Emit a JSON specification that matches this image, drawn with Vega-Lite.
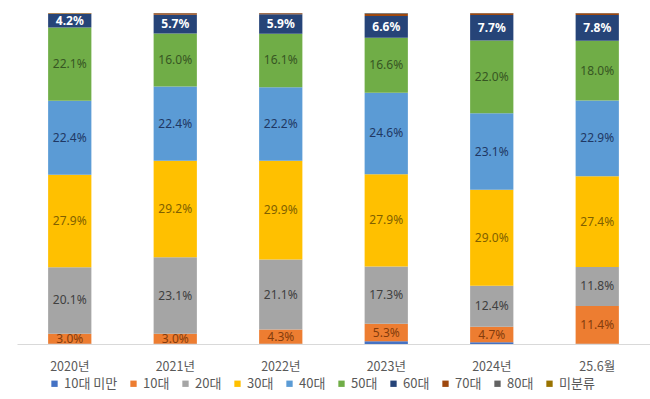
{
  "$schema": "https://vega.github.io/schema/vega-lite/v6.json",
  "width": 633,
  "height": 331,
  "padding": {"left": 17, "top": 12, "right": 0, "bottom": 0},
  "background": "white",
  "config": {"view": {"stroke": null}, "font": "Noto Sans CJK KR"},
  "data": {"values": [
    {"year": "2020년", "age": "10대 미만", "o": 0, "v": 0.1},
    {"year": "2020년", "age": "10대", "o": 1, "v": 3.0},
    {"year": "2020년", "age": "20대", "o": 2, "v": 20.1},
    {"year": "2020년", "age": "30대", "o": 3, "v": 27.9},
    {"year": "2020년", "age": "40대", "o": 4, "v": 22.4},
    {"year": "2020년", "age": "50대", "o": 5, "v": 22.1},
    {"year": "2020년", "age": "60대", "o": 6, "v": 4.2},
    {"year": "2020년", "age": "70대", "o": 7, "v": 0.1},
    {"year": "2020년", "age": "80대", "o": 8, "v": 0.05},
    {"year": "2020년", "age": "미분류", "o": 9, "v": 0.05},
    {"year": "2021년", "age": "10대 미만", "o": 0, "v": 0.1},
    {"year": "2021년", "age": "10대", "o": 1, "v": 3.0},
    {"year": "2021년", "age": "20대", "o": 2, "v": 23.1},
    {"year": "2021년", "age": "30대", "o": 3, "v": 29.2},
    {"year": "2021년", "age": "40대", "o": 4, "v": 22.4},
    {"year": "2021년", "age": "50대", "o": 5, "v": 16.0},
    {"year": "2021년", "age": "60대", "o": 6, "v": 5.7},
    {"year": "2021년", "age": "70대", "o": 7, "v": 0.4},
    {"year": "2021년", "age": "80대", "o": 8, "v": 0.1},
    {"year": "2021년", "age": "미분류", "o": 9, "v": 0.0},
    {"year": "2022년", "age": "10대 미만", "o": 0, "v": 0.1},
    {"year": "2022년", "age": "10대", "o": 1, "v": 4.3},
    {"year": "2022년", "age": "20대", "o": 2, "v": 21.1},
    {"year": "2022년", "age": "30대", "o": 3, "v": 29.9},
    {"year": "2022년", "age": "40대", "o": 4, "v": 22.2},
    {"year": "2022년", "age": "50대", "o": 5, "v": 16.1},
    {"year": "2022년", "age": "60대", "o": 6, "v": 5.9},
    {"year": "2022년", "age": "70대", "o": 7, "v": 0.3},
    {"year": "2022년", "age": "80대", "o": 8, "v": 0.1},
    {"year": "2022년", "age": "미분류", "o": 9, "v": 0.0},
    {"year": "2023년", "age": "10대 미만", "o": 0, "v": 0.8},
    {"year": "2023년", "age": "10대", "o": 1, "v": 5.3},
    {"year": "2023년", "age": "20대", "o": 2, "v": 17.3},
    {"year": "2023년", "age": "30대", "o": 3, "v": 27.9},
    {"year": "2023년", "age": "40대", "o": 4, "v": 24.6},
    {"year": "2023년", "age": "50대", "o": 5, "v": 16.6},
    {"year": "2023년", "age": "60대", "o": 6, "v": 6.6},
    {"year": "2023년", "age": "70대", "o": 7, "v": 0.7},
    {"year": "2023년", "age": "80대", "o": 8, "v": 0.2},
    {"year": "2023년", "age": "미분류", "o": 9, "v": 0.0},
    {"year": "2024년", "age": "10대 미만", "o": 0, "v": 0.5},
    {"year": "2024년", "age": "10대", "o": 1, "v": 4.7},
    {"year": "2024년", "age": "20대", "o": 2, "v": 12.4},
    {"year": "2024년", "age": "30대", "o": 3, "v": 29.0},
    {"year": "2024년", "age": "40대", "o": 4, "v": 23.1},
    {"year": "2024년", "age": "50대", "o": 5, "v": 22.0},
    {"year": "2024년", "age": "60대", "o": 6, "v": 7.7},
    {"year": "2024년", "age": "70대", "o": 7, "v": 0.5},
    {"year": "2024년", "age": "80대", "o": 8, "v": 0.1},
    {"year": "2024년", "age": "미분류", "o": 9, "v": 0.0},
    {"year": "25.6월", "age": "10대 미만", "o": 0, "v": 0.1},
    {"year": "25.6월", "age": "10대", "o": 1, "v": 11.4},
    {"year": "25.6월", "age": "20대", "o": 2, "v": 11.8},
    {"year": "25.6월", "age": "30대", "o": 3, "v": 27.4},
    {"year": "25.6월", "age": "40대", "o": 4, "v": 22.9},
    {"year": "25.6월", "age": "50대", "o": 5, "v": 18.0},
    {"year": "25.6월", "age": "60대", "o": 6, "v": 7.8},
    {"year": "25.6월", "age": "70대", "o": 7, "v": 0.5},
    {"year": "25.6월", "age": "80대", "o": 8, "v": 0.1},
    {"year": "25.6월", "age": "미분류", "o": 9, "v": 0.0}
  ]},
  "transform": [
    {"stack": "v", "groupby": ["year"], "sort": [{"field": "o", "order": "ascending"}], "as": ["y0", "y1"]},
    {"calculate": "(datum.y0 + datum.y1) / 2", "as": "mid"},
    {"calculate": "format(datum.v, '.1f') + '%'", "as": "lab"}
  ],
  "encoding": {
    "x": {
      "field": "year", "type": "nominal", "sort": null,
      "scale": {"paddingInner": 0.59, "paddingOuter": 0.295},
      "axis": {
        "title": null, "labelAngle": 0, "ticks": false,
        "domainColor": "#D9D9D9", "domainWidth": 1,
        "labelColor": "#595959", "labelFontSize": 12.5,
        "labelFont": "Noto Sans CJK KR", "labelPadding": 16
      }
    }
  },
  "layer": [
    {
      "mark": {"type": "bar"},
      "encoding": {
        "y": {"field": "y0", "type": "quantitative", "scale": {"domain": [0, 100]}, "axis": null},
        "y2": {"field": "y1"},
        "color": {
          "field": "age", "type": "nominal",
          "scale": {
            "domain": ["10대 미만", "10대", "20대", "30대", "40대", "50대", "60대", "70대", "80대", "미분류"],
            "range": ["#4472C4", "#ED7D31", "#A5A5A5", "#FFC000", "#5B9BD5", "#70AD47", "#264478", "#9E480E", "#636363", "#997300"]
          },
          "legend": {
            "title": null, "orient": "none", "legendX": 31, "legendY": 364,
            "direction": "horizontal", "columns": 10,
            "symbolType": "square", "symbolSize": 40, "symbolStrokeWidth": 0,
            "labelFontSize": 13, "labelColor": "#595959", "labelFont": "Noto Sans CJK KR",
            "labelOffset": 3, "columnPadding": 9
          }
        }
      }
    },
    {
      "transform": [{"filter": "datum.o >= 1 && datum.o <= 5"}],
      "mark": {"type": "text", "font": "Noto Sans", "fontSize": 12, "baseline": "middle"},
      "encoding": {
        "y": {"field": "mid", "type": "quantitative", "scale": {"domain": [0, 100]}, "axis": null},
        "text": {"field": "lab"},
        "color": {
          "field": "age", "type": "nominal", "legend": null,
          "scale": {
            "domain": ["10대", "20대", "30대", "40대", "50대"],
            "range": ["#843C0C", "#404040", "#7F6000", "#1F3864", "#375623"]
          }
        }
      }
    },
    {
      "transform": [{"filter": "datum.o == 6"}],
      "mark": {"type": "text", "font": "Noto Sans", "fontSize": 12, "fontWeight": "bold", "color": "white", "baseline": "middle"},
      "encoding": {
        "y": {"field": "mid", "type": "quantitative", "scale": {"domain": [0, 100]}, "axis": null},
        "text": {"field": "lab"}
      }
    }
  ],
  "resolve": {"scale": {"color": "independent"}}
}
